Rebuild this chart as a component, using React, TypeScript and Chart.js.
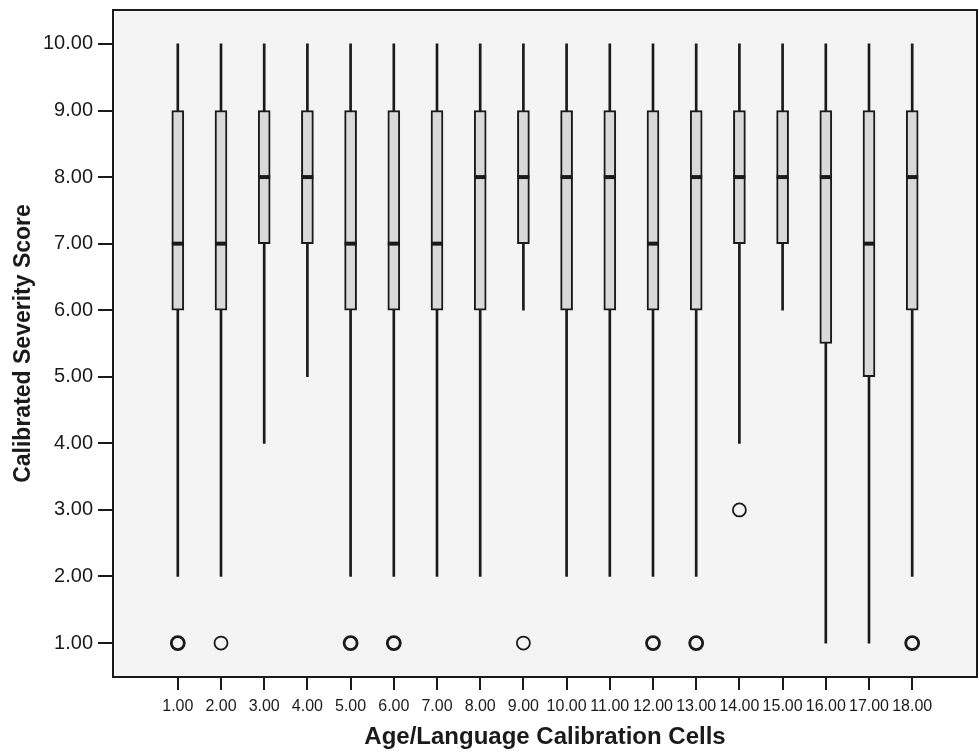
import React, { useEffect, useRef } from "react";
import { Chart, registerables } from "chart.js";

Chart.register(...registerables);

// ---- data ----
const cells = [1, 2, 3, 4, 5, 6, 7, 8, 9, 10, 11, 12, 13, 14, 15, 16, 17, 18];
const q1 = [6, 6, 7, 7, 6, 6, 6, 6, 7, 6, 6, 6, 6, 7, 7, 5.5, 5, 6];
const medians = [7, 7, 8, 8, 7, 7, 7, 8, 8, 8, 8, 7, 8, 8, 8, 8, 7, 8];
const q3 = [9, 9, 9, 9, 9, 9, 9, 9, 9, 9, 9, 9, 9, 9, 9, 9, 9, 9];
const whiskerLow = [2, 2, 4, 5, 2, 2, 2, 2, 6, 2, 2, 2, 2, 4, 6, 1, 1, 2];
const whiskerHigh = [10, 10, 10, 10, 10, 10, 10, 10, 10, 10, 10, 10, 10, 10, 10, 10, 10, 10];
const boldOutlierCells = [1, 5, 6, 12, 13, 18];
const boldOutlierValues = [1, 1, 1, 1, 1, 1];
const thinOutlierCells = [2, 9, 14];
const thinOutlierValues = [1, 1, 3];
const yTickValues = [1, 2, 3, 4, 5, 6, 7, 8, 9, 10];
const xTickValues = cells;
const xTitle = "Age/Language Calibration Cells";
const yTitle = "Calibrated Severity Score";

const INK = "#1a1a1a";
const FONT = "'Liberation Sans', Arial, Helvetica, sans-serif";

const drawXTicks = (chart: any) => {
  const { ctx, chartArea, scales } = chart;
  const xs = scales.x;
  ctx.save();
  ctx.fillStyle = INK;
  xTickValues.forEach((v) => {
    const px = Math.round(xs.getPixelForValue(v));
    ctx.fillRect(px - 1, Math.round(chartArea.bottom), 2, 13);
  });
  ctx.restore();
};

const framePlugin = {
  id: "frame",
  beforeDraw(chart: any) {
    const { ctx, chartArea } = chart;
    const { left, top, right, bottom } = chartArea;
    ctx.save();
    ctx.fillStyle = "#f4f4f4";
    ctx.fillRect(left, top, right - left, bottom - top);
    ctx.restore();
  },
  afterDraw(chart: any) {
    const { ctx, chartArea } = chart;
    const { left, top, right, bottom } = chartArea;
    ctx.save();
    ctx.strokeStyle = INK;
    ctx.lineWidth = 2;
    ctx.strokeRect(left, top, right - left, bottom - top);
    ctx.restore();
    drawXTicks(chart);
  },
};

export default function App() {
  const ref = useRef<HTMLCanvasElement | null>(null);

  useEffect(() => {
    if (!ref.current) return;
    const chart = new Chart(ref.current, {
      type: "bar",
      data: {
        datasets: [
          {
            type: "bar",
            label: "whiskers",
            data: cells.map((c, i) => ({ x: c, y: [whiskerLow[i], whiskerHigh[i]] })) as any,
            backgroundColor: INK,
            borderWidth: 0,
            barThickness: 2,
            grouped: false,
            order: 4,
          } as any,
          {
            type: "bar",
            label: "boxes",
            data: cells.map((c, i) => ({ x: c, y: [q1[i], q3[i]] })) as any,
            backgroundColor: "#d9d9d9",
            borderColor: INK,
            borderWidth: 2,
            borderSkipped: false,
            barThickness: 12,
            grouped: false,
            order: 3,
          } as any,
          {
            type: "scatter",
            label: "medians",
            data: cells.map((c, i) => ({ x: c, y: medians[i] })),
            pointStyle: "line",
            pointRadius: 6,
            pointHoverRadius: 6,
            pointBorderColor: INK,
            pointBorderWidth: 4,
            borderColor: INK,
            showLine: false,
            order: 2,
          } as any,
          {
            type: "scatter",
            label: "outliers-bold",
            data: boldOutlierCells.map((c, i) => ({ x: c, y: boldOutlierValues[i] })),
            pointStyle: "circle",
            pointRadius: 6.5,
            pointHoverRadius: 6.5,
            pointBackgroundColor: "rgba(0,0,0,0)",
            pointBorderColor: INK,
            pointBorderWidth: 2.8,
            showLine: false,
            order: 1,
          } as any,
          {
            type: "scatter",
            label: "outliers-thin",
            data: thinOutlierCells.map((c, i) => ({ x: c, y: thinOutlierValues[i] })),
            pointStyle: "circle",
            pointRadius: 6.5,
            pointHoverRadius: 6.5,
            pointBackgroundColor: "rgba(0,0,0,0)",
            pointBorderColor: INK,
            pointBorderWidth: 1.8,
            showLine: false,
            order: 1,
          } as any,
        ],
      },
      options: {
        responsive: false,
        animation: false,
        devicePixelRatio: 1,
        layout: { autoPadding: false, padding: { top: 10, right: 2, left: 0, bottom: 0 } },
        plugins: {
          legend: { display: false },
          tooltip: { enabled: false },
        },
        events: [],
        scales: {
          x: {
            type: "linear",
            min: -0.5,
            max: 19.5,
            offset: false,
            afterBuildTicks: (axis: any) => {
              axis.ticks = xTickValues.map((v) => ({ value: v }));
            },
            afterFit: (axis: any) => {
              axis.height = 79;
              axis.paddingLeft = 0;
              axis.paddingRight = 0;
            },
            ticks: {
              autoSkip: false,
              maxRotation: 0,
              minRotation: 0,
              padding: 7,
              color: INK,
              font: { family: FONT, size: 16 },
              callback: (v: any) => Number(v).toFixed(2),
            },
            grid: {
              display: false,
              drawOnChartArea: false,
              drawTicks: true,
              tickLength: 13,
            },
            border: { display: false },
            title: {
              display: true,
              text: xTitle,
              color: INK,
              font: { family: FONT, size: 24, weight: "bold" },
              padding: { top: 0, bottom: 4 },
            },
          },
          // tick-mark-only axis: offset grid lines fall exactly on the category values
          x2: {
            type: "linear",
            position: "bottom",
            weight: -1,
            min: -0.5,
            max: 19.5,
            offset: false,
            afterBuildTicks: (axis: any) => {
              axis.ticks = xTickValues.map((v) => ({ value: v + 0.5 })).concat([{ value: 30 }]);
            },
            afterFit: (axis: any) => {
              axis.height = 0;
              axis.paddingLeft = 0;
              axis.paddingRight = 0;
            },
            ticks: { display: false },
            grid: {
              display: true,
              offset: true,
              drawOnChartArea: false,
              drawTicks: true,
              tickLength: 13,
              lineWidth: 2,
              color: INK,
            },
            border: { display: false },
          },
          y: {
            type: "linear",
            min: 0.49,
            max: 10.51,
            afterBuildTicks: (axis: any) => {
              axis.ticks = yTickValues.map((v) => ({ value: v }));
            },
            afterFit: (axis: any) => {
              axis.width = 113;
              axis.paddingTop = 0;
              axis.paddingBottom = 0;
            },
            ticks: {
              autoSkip: false,
              padding: 5,
              color: INK,
              font: { family: FONT, size: 20 },
              callback: (v: any) => Number(v).toFixed(2),
            },
            grid: {
              display: true,
              offset: false,
              drawOnChartArea: false,
              drawTicks: true,
              tickLength: 15,
              lineWidth: 2,
              color: INK,
            },
            border: { display: false },
            title: {
              display: true,
              text: yTitle,
              color: INK,
              font: { family: FONT, size: 23, weight: "bold" },
              padding: { top: 10, bottom: 0 },
            },
          },
        },
      } as any,
      plugins: [framePlugin],
    });
    return () => chart.destroy();
  }, []);

  return (
    <div style={{ position: "absolute", left: 0, top: 0, width: 979, height: 756, background: "#fff" }}>
      <canvas ref={ref} width={979} height={756} style={{ display: "block", width: 979, height: 756 }} />
    </div>
  );
}
